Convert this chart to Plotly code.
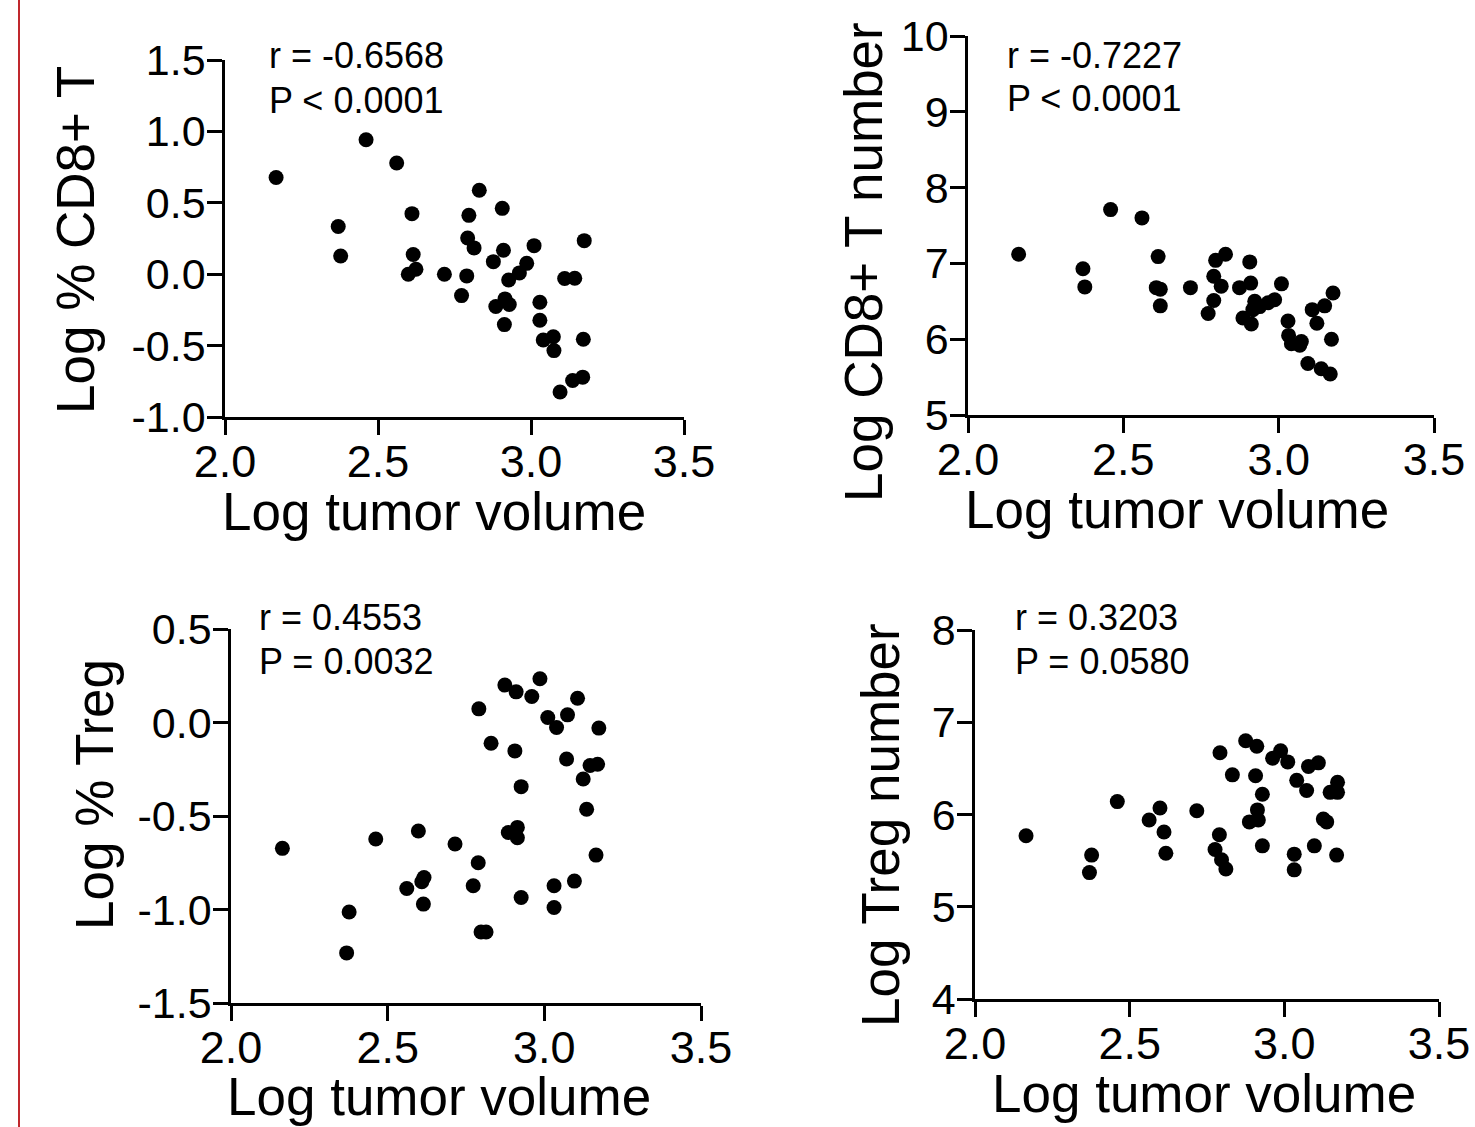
import plotly.graph_objects as go

W, H = 1475, 1127
FONT = "Liberation Sans, Arial, sans-serif"

# ---------------- data ----------------
cd8_pct_x = [2.167, 2.461, 2.561, 2.370, 2.378, 2.611, 2.615, 2.599, 2.624, 2.717,
             2.773, 2.790, 2.797, 2.831, 2.793, 2.814, 2.877, 2.906, 2.910, 2.927,
             2.962, 2.986, 3.010, 2.885, 2.915, 2.929, 2.913, 3.029, 3.029, 3.040,
             3.073, 3.075, 3.095, 3.136, 3.169, 3.171, 3.174, 3.110, 3.143]
cd8_pct_y = [0.677, 0.942, 0.779, 0.334, 0.127, 0.424, 0.138, 0.000, 0.035, 0.000,
             -0.150, -0.012, 0.412, 0.588, 0.253, 0.184, 0.088, 0.461, 0.168, -0.041,
             0.009, 0.076, 0.200, -0.226, -0.173, -0.212, -0.353, -0.196, -0.323, -0.461,
             -0.438, -0.535, -0.825, -0.744, -0.721, -0.456, 0.235, -0.030, -0.028]

cd8_num_x = [2.163, 2.459, 2.560, 2.370, 2.376, 2.612, 2.606, 2.619, 2.619, 2.716,
             2.773, 2.791, 2.791, 2.797, 2.829, 2.815, 2.874, 2.907, 2.910, 2.885,
             2.912, 2.923, 2.917, 2.939, 2.966, 2.987, 3.009, 3.030, 3.032, 3.041,
             3.073, 3.068, 3.094, 3.137, 3.166, 3.170, 3.175, 3.148, 3.108, 3.123]
cd8_num_y = [7.12, 7.71, 7.60, 6.93, 6.69, 7.09, 6.68, 6.66, 6.44, 6.68,
             6.34, 6.51, 6.83, 7.04, 7.12, 6.70, 6.68, 7.02, 6.74, 6.28,
             6.20, 6.50, 6.39, 6.43, 6.48, 6.52, 6.73, 6.24, 6.05, 5.94,
             5.97, 5.92, 5.68, 5.61, 5.54, 6.00, 6.61, 6.44, 6.39, 6.21]

treg_pct_x = [2.164, 2.462, 2.377, 2.369, 2.598, 2.561, 2.616, 2.609, 2.614, 2.715,
              2.789, 2.773, 2.798, 2.814, 2.791, 2.830, 2.874, 2.910, 2.960, 2.986,
              2.906, 2.926, 2.885, 2.914, 2.914, 2.926, 3.011, 3.039, 3.074, 3.106,
              3.071, 3.031, 3.031, 3.096, 3.124, 3.146, 3.170, 3.174, 3.135, 3.165]
treg_pct_y = [-0.673, -0.623, -1.013, -1.232, -0.580, -0.888, -0.829, -0.852, -0.971, -0.650,
              -0.750, -0.873, -1.120, -1.120, 0.073, -0.111, 0.200, 0.164, 0.139, 0.234,
              -0.152, -0.343, -0.588, -0.561, -0.616, -0.936, 0.027, -0.027, 0.041, 0.130,
              -0.195, -0.873, -0.989, -0.848, -0.302, -0.230, -0.223, -0.030, -0.464, -0.709]

treg_num_x = [2.165, 2.377, 2.370, 2.460, 2.563, 2.598, 2.611, 2.617, 2.717, 2.792,
              2.832, 2.790, 2.776, 2.797, 2.811, 2.875, 2.911, 2.907, 2.929, 2.913,
              2.916, 2.887, 2.929, 2.962, 2.988, 3.011, 3.040, 3.072, 3.078, 3.110,
              3.032, 3.032, 3.097, 3.126, 3.137, 3.169, 3.148, 3.172, 3.172]
treg_num_y = [5.77, 5.56, 5.37, 6.14, 5.94, 6.07, 5.81, 5.58, 6.04, 6.67,
              6.43, 5.78, 5.62, 5.51, 5.41, 6.80, 6.74, 6.42, 6.22, 6.05,
              5.94, 5.92, 5.66, 6.61, 6.69, 6.57, 6.37, 6.26, 6.52, 6.56,
              5.57, 5.40, 5.66, 5.95, 5.92, 5.56, 6.24, 6.35, 6.24]

x_ticks = [2.0, 2.5, 3.0, 3.5]
x_ticktext = ["2.0", "2.5", "3.0", "3.5"]
y1_ticks = [-1.0, -0.5, 0.0, 0.5, 1.0, 1.5]
y1_ticktext = ["-1.0", "-0.5", "0.0", "0.5", "1.0", "1.5"]
y2_ticks = [5, 6, 7, 8, 9, 10]
y2_ticktext = ["5", "6", "7", "8", "9", "10"]
y3_ticks = [-1.5, -1.0, -0.5, 0.0, 0.5]
y3_ticktext = ["-1.5", "-1.0", "-0.5", "0.0", "0.5"]
y4_ticks = [4, 5, 6, 7, 8]
y4_ticktext = ["4", "5", "6", "7", "8"]

x_title = "Log tumor volume"
y_titles = ["Log % CD8+ T", "Log CD8+ T number", "Log % Treg", "Log Treg number"]
r_texts = ["r = -0.6568", "r = -0.7227", "r = 0.4553", "r = 0.3203"]
p_texts = ["P < 0.0001", "P < 0.0001", "P = 0.0032", "P = 0.0580"]

# ---------------- layout helpers (window pixel positions -> paper) ----------------
def px(x):
    return x / W

def py(y):
    return 1 - y / H

panels = [
    dict(x=(225, 684), y=(60, 417), yr=[-1.0, 1.5], yt=y1_ticks, ytt=y1_ticktext,
         xs=cd8_pct_x, ys=cd8_pct_y, rpos=(267, 56, 100), xt=(434, 511), yttl=(75, 240)),
    dict(x=(968, 1434), y=(36, 415), yr=[5, 10], yt=y2_ticks, ytt=y2_ticktext,
         xs=cd8_num_x, ys=cd8_num_y, rpos=(1005, 55, 99), xt=(1177, 509), yttl=(863, 262)),
    dict(x=(231, 701), y=(629, 1003), yr=[-1.5, 0.5], yt=y3_ticks, ytt=y3_ticktext,
         xs=treg_pct_x, ys=treg_pct_y, rpos=(257, 617, 661), xt=(439, 1096), yttl=(94, 794)),
    dict(x=(975, 1439), y=(630, 999), yr=[4, 8], yt=y4_ticks, ytt=y4_ticktext,
         xs=treg_num_x, ys=treg_num_y, rpos=(1013, 617, 661), xt=(1204, 1093), yttl=(880, 825)),
]

fig = go.Figure()
layout = dict(
    width=W, height=H,
    margin=dict(l=0, r=0, t=0, b=0, pad=0, autoexpand=False),
    paper_bgcolor="white", plot_bgcolor="white",
    showlegend=False,
    font=dict(family=FONT, color="black"),
    annotations=[], shapes=[],
)

axis_common = dict(
    showline=True, linecolor="black", linewidth=2.6,
    ticks="outside", ticklen=15, tickwidth=2.6, tickcolor="black",
    showgrid=False, zeroline=False, automargin=False,
    ticklabeloverflow="allow",
)

for i, p in enumerate(panels, start=1):
    sfx = "" if i == 1 else str(i)
    fig.add_trace(go.Scatter(
        x=p["xs"], y=p["ys"], mode="markers",
        marker=dict(color="black", size=15, line=dict(width=0)),
        xaxis="x" + sfx, yaxis="y" + sfx, cliponaxis=False, hoverinfo="skip",
    ))
    layout["xaxis" + sfx] = dict(
        axis_common,
        domain=[px(p["x"][0]), px(p["x"][1])],
        range=[2.0, 3.5], tickvals=x_ticks, ticktext=x_ticktext,
        anchor="y" + sfx, ticklabelstandoff=-12,
        tickfont=dict(family=FONT, size=45, color="black"),
    )
    layout["yaxis" + sfx] = dict(
        axis_common,
        domain=[py(p["y"][1]), py(p["y"][0])],
        range=p["yr"], tickvals=p["yt"], ticktext=p["ytt"],
        anchor="x" + sfx, ticklabelstandoff=-7,
        tickfont=dict(family=FONT, size=43, color="black"),
    )
    rx, ry, pyy = p["rpos"]
    layout["annotations"].append(dict(
        xref="paper", yref="paper", x=px(rx), y=py(ry), xanchor="left", yanchor="middle",
        text=r_texts[i - 1], showarrow=False, font=dict(family=FONT, size=36, color="black")))
    layout["annotations"].append(dict(
        xref="paper", yref="paper", x=px(rx), y=py(pyy), xanchor="left", yanchor="middle",
        text=p_texts[i - 1], showarrow=False, font=dict(family=FONT, size=36, color="black")))
    tx, ty = p["xt"]
    layout["annotations"].append(dict(
        xref="paper", yref="paper", x=px(tx), y=py(ty), xanchor="center", yanchor="middle",
        text=x_title, showarrow=False, font=dict(family=FONT, size=53, color="black")))
    vx, vy = p["yttl"]
    layout["annotations"].append(dict(
        xref="paper", yref="paper", x=px(vx), y=py(vy), xanchor="center", yanchor="middle",
        text=y_titles[i - 1], textangle=-90, showarrow=False,
        font=dict(family=FONT, size=53, color="black")))

# red vertical rule at the left edge of the page
layout["shapes"].append(dict(
    type="line", xref="paper", yref="paper", x0=px(19), x1=px(19), y0=0, y1=1,
    line=dict(color="#c0282d", width=2)))

fig.update_layout(**layout)
# remove the browser's default 8 px page margin so the figure fills the window
fig.write_html("out.html", config={"displayModeBar": False},
               post_script="document.body.style.margin='0';")
